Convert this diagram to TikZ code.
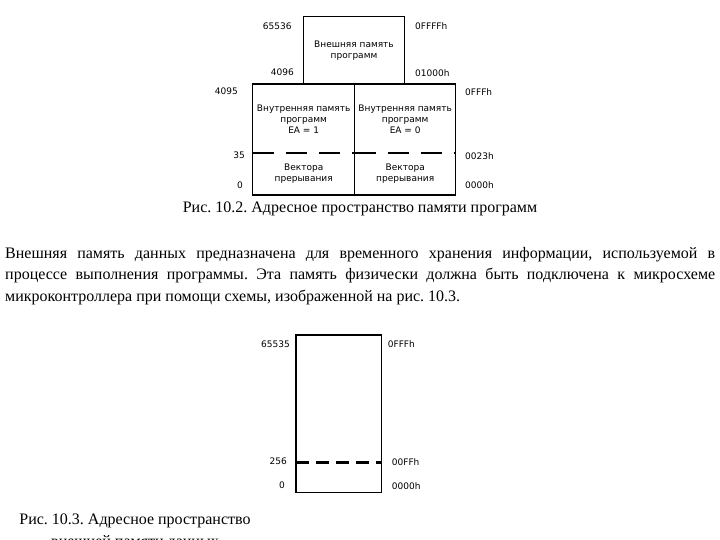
\documentclass[tikz,border=0pt]{standalone}
\usepackage{fontspec}
\setmainfont{Liberation Serif}
\newfontfamily\lab{DejaVu Sans}
\frenchspacing
\begin{document}
\begin{tikzpicture}[x=1pt,y=-1pt,
  lbl/.style={font=\lab\fontsize{9}{11}\selectfont, inner sep=0, align=center},
  box/.style={draw, line width=1.3pt},
  dashA/.style={line width=2.4pt, dash pattern=on 21pt off 12pt},
  dashB/.style={line width=2.4pt, dash pattern=on 13pt off 7pt},
  body/.style={font=\fontsize{16}{21.5}\selectfont, inner sep=0}]
\useasboundingbox (0,0) rectangle (720,540);
% ---- Fig 10.2
\draw[box] (303.3,16.7) rectangle (404.3,84);
\draw[box] (252.7,84) rectangle (455.7,195);
\draw[box] (354.7,84) -- (354.7,195);
\draw[dashA] (252.7,153.3) -- (354.7,153.3);
\draw[dashA] (354.7,153.3) -- (455.7,153.3);
\node[lbl] (ext) at (354,51) {Внешняя память\\программ};
\node[lbl] (intl) at (303.7,119) {Внутренняя память\\программ\\EA = 1};
\node[lbl] (intr) at (405.2,119) {Внутренняя память\\программ\\EA = 0};
\node[lbl] (vecl) at (303.7,173.5) {Вектора\\прерывания};
\node[lbl] (vecr) at (405.2,173.5) {Вектора\\прерывания};
\node[lbl,anchor=east] (a65536) at (291.7,26) {65536};
\node[lbl,anchor=east] (a4096) at (294,72.7) {4096};
\node[lbl,anchor=east] (a4095) at (238,91.7) {4095};
\node[lbl,anchor=east] (a35) at (245,155.7) {35};
\node[lbl,anchor=east] (a0) at (243,185) {0};
\node[lbl,anchor=west] (hFFFF) at (415,26) {0FFFFh};
\node[lbl,anchor=west] (h1000) at (415,72.7) {01000h};
\node[lbl,anchor=west] (hFFF) at (465,91.7) {0FFFh};
\node[lbl,anchor=west] (h23) at (465,155.7) {0023h};
\node[lbl,anchor=west] (h0) at (465,185) {0000h};
\node[body, anchor=base] (cap1) at (360,213) {Рис. 10.2. Адресное пространство памяти программ};
% ---- paragraph
\node[body, anchor=north west, text width=710pt, align=justify] (par) at (5,247)
 {Внешняя память данных предназначена для временного хранения информации, используемой в\linebreak
 процессе выполнения программы. Эта память физически должна быть подключена к микросхеме\linebreak
 микроконтроллера при помощи схемы, изображенной на рис. 10.3.};
% ---- Fig 10.3
\draw[box] (296,335) rectangle (381.7,492.3);
\draw[dashB] (296,462.3) -- (381.7,462.3);
\node[lbl,anchor=east] (b65535) at (290,344.3) {65535};
\node[lbl,anchor=east] (b256) at (287,461.7) {256};
\node[lbl,anchor=east] (b0) at (285,485.7) {0};
\node[lbl,anchor=west] (cFFF) at (387.7,344.3) {0FFFh};
\node[lbl,anchor=west] (cFF) at (391.7,461.7) {00FFh};
\node[lbl,anchor=west] (c0) at (391.7,485.7) {0000h};
\node[body, align=center, anchor=north] (cap2) at (135,514) {Рис. 10.3. Адресное пространство\\внешней памяти данных};
\end{tikzpicture}
\end{document}
